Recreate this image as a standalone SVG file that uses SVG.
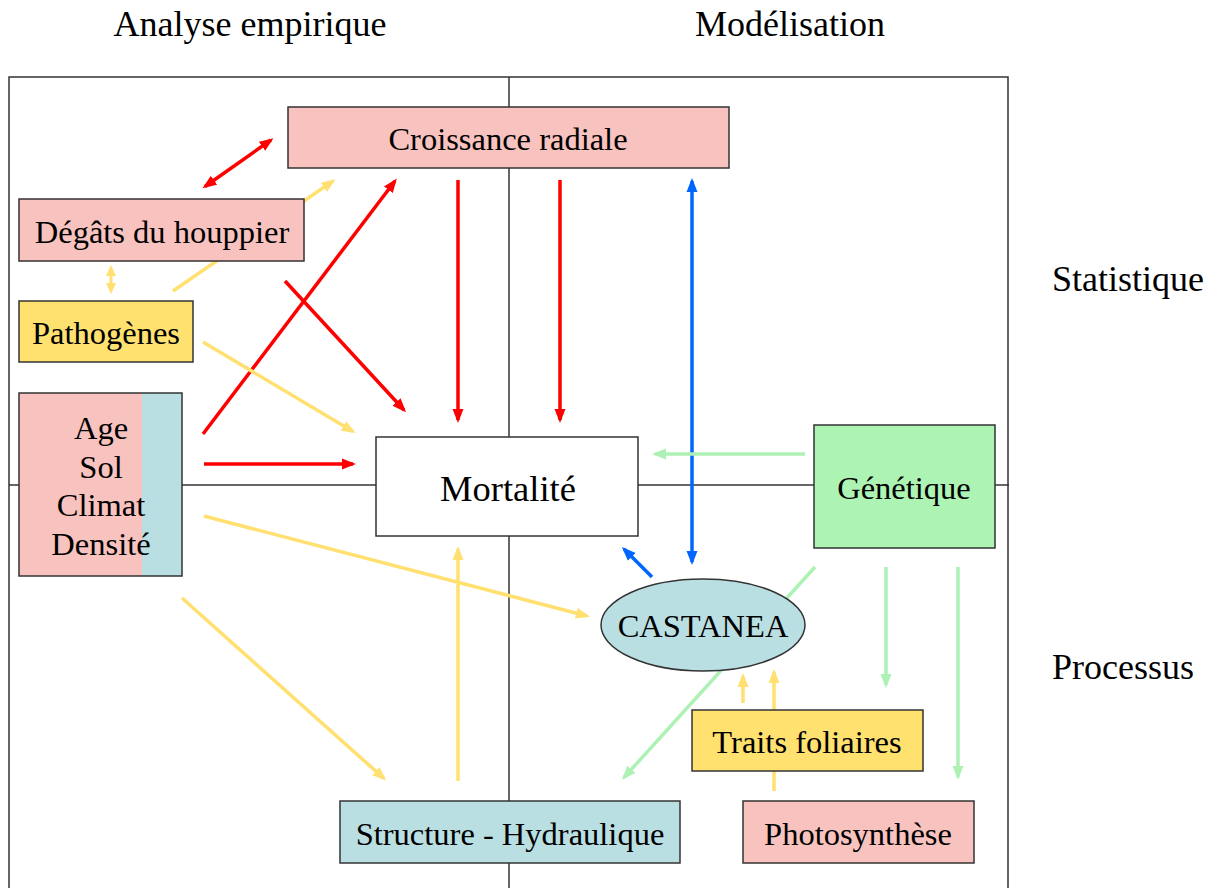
<svg xmlns="http://www.w3.org/2000/svg" width="1220" height="888" viewBox="0 0 1220 888">
<style>
text{font-family:"Liberation Serif","Times New Roman",serif;fill:#000}
.hdr{font-size:36px}
.lbl{font-size:32.5px;text-anchor:middle}
.box{stroke:#333;stroke-width:1.5}
.pink{fill:#F8C3BF}.yel{fill:#FFE170}.blu{fill:#B9DFE3}.grn{fill:#ADF3B4}
.axis{stroke:#333;stroke-width:1.5;fill:none}
.r{stroke:#FF0000;stroke-width:3.5;fill:none;marker-end:url(#ar)}
.y{stroke:#FFE070;stroke-width:3.5;fill:none;marker-end:url(#ay)}
.g{stroke:#ADF2B4;stroke-width:3.5;fill:none;marker-end:url(#ag)}
.b{stroke:#0066FF;stroke-width:3.5;fill:none;marker-end:url(#ab)}
</style>
<defs>
<marker id="ar" markerUnits="userSpaceOnUse" markerWidth="15" markerHeight="12" refX="11" refY="6" orient="auto-start-reverse"><path d="M0,0.5 L14,6 L0,11.5 z" fill="#FF0000"/></marker>
<marker id="ay" markerUnits="userSpaceOnUse" markerWidth="15" markerHeight="12" refX="11" refY="6" orient="auto-start-reverse"><path d="M0,0.5 L14,6 L0,11.5 z" fill="#FFE070"/></marker>
<marker id="ays" markerUnits="userSpaceOnUse" markerWidth="12" markerHeight="12" refX="8" refY="5" orient="auto-start-reverse"><path d="M0,0 L11,5 L0,10 z" fill="#FFE070"/></marker>
<marker id="ag" markerUnits="userSpaceOnUse" markerWidth="15" markerHeight="12" refX="11" refY="6" orient="auto-start-reverse"><path d="M0,0.5 L14,6 L0,11.5 z" fill="#ADF2B4"/></marker>
<marker id="ab" markerUnits="userSpaceOnUse" markerWidth="15" markerHeight="12" refX="11" refY="6" orient="auto-start-reverse"><path d="M0,0.5 L14,6 L0,11.5 z" fill="#0066FF"/></marker>
</defs>
<rect width="1220" height="888" fill="#fff"/>
<g id="headers">
<text class="hdr" x="250" y="36" text-anchor="middle">Analyse empirique</text>
<text class="hdr" x="790" y="36" text-anchor="middle">Modélisation</text>
<text class="hdr" x="1052" y="291">Statistique</text>
<text class="hdr" x="1052" y="679">Processus</text>
</g>
<g id="frame">
<path class="axis" d="M9,890 V77 H1008 V890"/>
<line class="axis" x1="509" y1="77" x2="509" y2="890"/>
<line class="axis" x1="9" y1="485" x2="1009" y2="485"/>
</g>
<g id="connectors">
<line class="r" x1="205" y1="186.5" x2="271" y2="140" style="marker-start:url(#ar)"/>
<line class="r" x1="203" y1="434" x2="395" y2="181"/>
<line class="r" x1="285" y1="281" x2="404" y2="410"/>
<line class="r" x1="458" y1="180" x2="458" y2="420"/>
<line class="r" x1="560" y1="180" x2="560" y2="420"/>
<line class="r" x1="204" y1="464" x2="353" y2="464"/>
<line class="y" x1="173" y1="291" x2="333" y2="181"/>
<line x1="111" y1="268" x2="111" y2="291" stroke="#FFE070" stroke-width="3" marker-start="url(#ays)" marker-end="url(#ays)"/>
<line class="y" x1="203" y1="342" x2="353" y2="431.5"/>
<line class="y" x1="204" y1="516" x2="587" y2="616"/>
<line class="y" x1="182" y1="598" x2="384" y2="778.5"/>
<line class="y" x1="458" y1="781" x2="458" y2="549"/>
<line class="y" x1="743" y1="703" x2="743" y2="676"/>
<line class="y" x1="774" y1="791" x2="774" y2="672"/>
<line class="b" x1="692" y1="181" x2="692" y2="562" style="marker-start:url(#ab)"/>
<line class="b" x1="652" y1="577" x2="624" y2="549"/>
<line class="g" x1="805" y1="454" x2="655" y2="454"/>
<line class="g" x1="815" y1="567" x2="624" y2="777.5"/>
<line class="g" x1="886" y1="567" x2="886" y2="685"/>
<line class="g" x1="958" y1="567" x2="958" y2="777"/>
</g>
<g id="croissance">
<rect class="box pink" x="288" y="107" width="441" height="61"/>
<text class="lbl" x="508" y="150">Croissance radiale</text>
</g>
<g id="degats">
<rect class="box pink" x="19" y="199" width="285" height="62"/>
<text class="lbl" x="162" y="243">Dégâts du houppier</text>
</g>
<g id="pathogenes">
<rect class="box yel" x="19" y="301" width="174" height="61"/>
<text class="lbl" x="106" y="344">Pathogènes</text>
</g>
<g id="facteurs">
<rect class="pink" x="19" y="393" width="123" height="183"/>
<rect class="blu" x="142" y="393" width="40" height="183"/>
<rect class="box" x="19" y="393" width="163" height="183" fill="none"/>
<text class="lbl" x="101" y="439">Age</text>
<text class="lbl" x="101" y="478">Sol</text>
<text class="lbl" x="101" y="516">Climat</text>
<text class="lbl" x="101" y="555">Densité</text>
</g>
<g id="mortalite">
<rect class="box" x="376" y="437" width="262" height="99" fill="#fff"/>
<text class="lbl" x="508" y="501" style="font-size:36.5px">Mortalité</text>
</g>
<g id="genetique">
<rect class="box grn" x="814" y="425" width="181" height="123"/>
<text class="lbl" x="904" y="499">Génétique</text>
</g>
<g id="castanea">
<ellipse class="box blu" cx="703" cy="625" rx="102" ry="46"/>
<text class="lbl" x="703" y="637">CASTANEA</text>
</g>
<g id="traits">
<rect class="box yel" x="692" y="710" width="231" height="61"/>
<text class="lbl" x="807" y="753">Traits foliaires</text>
</g>
<g id="photosynthese">
<rect class="box pink" x="743" y="801" width="231" height="62"/>
<text class="lbl" x="858" y="845">Photosynthèse</text>
</g>
<g id="structure">
<rect class="box blu" x="340" y="801" width="340" height="62"/>
<text class="lbl" x="510" y="845">Structure - Hydraulique</text>
</g>
</svg>
